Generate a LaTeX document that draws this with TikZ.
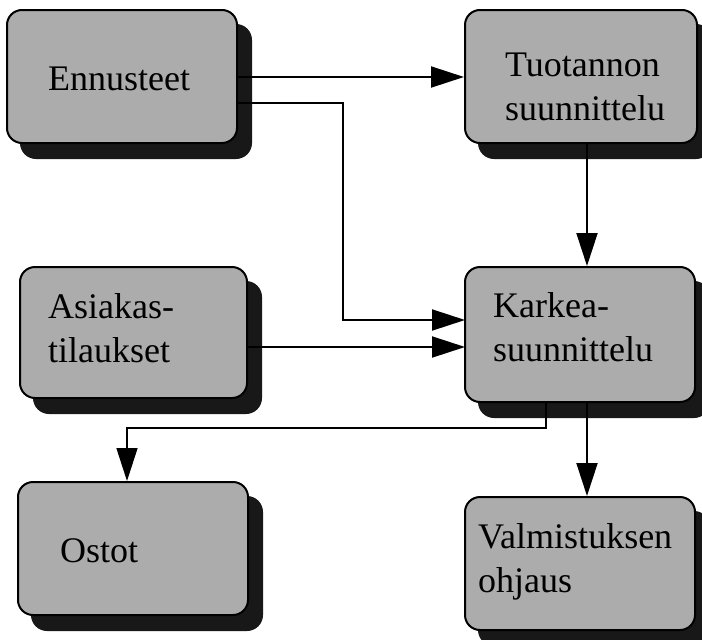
\documentclass[tikz,border=0pt]{standalone}
\usepackage{fontspec}
\setmainfont{Liberation Serif}
\usetikzlibrary{arrows.meta,shadows}
\definecolor{boxgray}{RGB}{172,172,172}
\definecolor{shadowblack}{RGB}{24,24,24}
\begin{document}
\begin{tikzpicture}[x=1pt,y=-1pt,
  block/.style={draw=black, line width=2pt, fill=boxgray, rounded corners=15pt,
    inner sep=0pt,
    copy shadow={shadow xshift=14pt, shadow yshift=-15pt, fill=shadowblack, draw=shadowblack}},
  label/.style={inner sep=0pt, anchor=base west, align=left,
    font=\fontsize{36}{44}\selectfont},
  flow/.style={line width=2pt, -{Triangle[length=33pt,width=21pt]}},
  wire/.style={line width=2pt}]
\useasboundingbox (0,0) rectangle (702,640);

% blocks
\node[block, minimum width=230pt, minimum height=133pt] (enn) at (122,76.5) {};
\node[block, minimum width=232pt, minimum height=133pt] (tuo) at (581,76.5) {};
\node[block, minimum width=227pt, minimum height=131pt] (asi) at (133.5,332.5) {};
\node[block, minimum width=230pt, minimum height=135pt] (kar) at (580,334.5) {};
\node[block, minimum width=230pt, minimum height=133pt] (ost) at (133,548.5) {};
\node[block, minimum width=230pt, minimum height=133pt] (val) at (580,563.5) {};

% texts (base anchor of a two-line label sits on its last line)
\node[label] (tenn) at (48,90) {Ennusteet};
\node[label] (ttuo) at (505,120) {Tuotannon\\suunnittelu};
\node[label] (tasi) at (48,362) {Asiakas-\\tilaukset};
\node[label] (tkar) at (493,361) {Karkea-\\suunnittelu};
\node[label] (tost) at (60,562) {Ostot};
\node[label] (tval) at (478,592) {Valmistuksen\\ohjaus};

% connectors
\coordinate (e1) at (237,77);
\coordinate (e2) at (237,103);
\coordinate (bend1) at (343,103);
\coordinate (bend2) at (343,320);
\coordinate (k1) at (465,320);
\coordinate (a1) at (247,347);
\coordinate (k2) at (465,347);
\coordinate (ko) at (546,402);
\coordinate (ko1) at (546,428);
\coordinate (ko2) at (127,428);

\draw[flow] (e1) -- (tuo.west |- e1);
\draw[flow] (e2) -- (bend1) -- (bend2) -- (k1);
\draw[flow] (a1) -- (k2);
\draw[flow] (tuo.south -| 587,0) -- (kar.north -| 587,0);
\draw[flow] (kar.south -| 587,0) -- (val.north -| 587,0);
\draw[flow, line width=1.6pt] (ko) -- (ko1) -- (ko2) -- (ost.north -| ko2);
\end{tikzpicture}
\end{document}
